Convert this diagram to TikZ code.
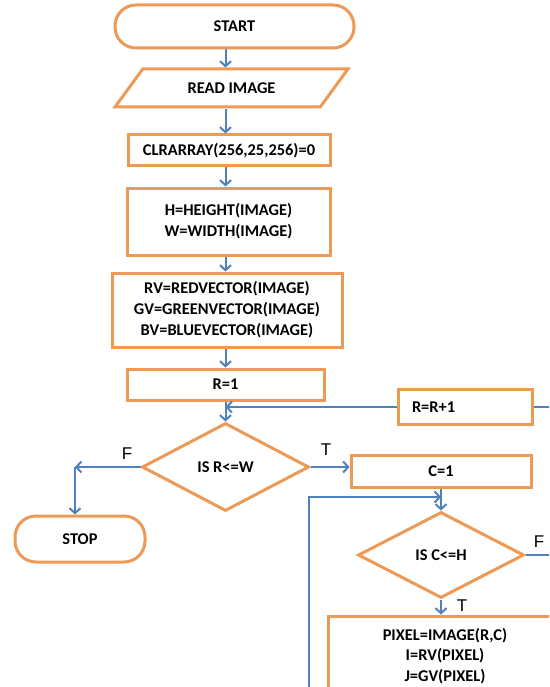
\documentclass[tikz,border=0pt]{standalone}
\usepackage{fontspec}
\newfontfamily\calfont{Carlito}
\newfontfamily\arfont{Liberation Sans}
\usetikzlibrary{shapes.geometric,arrows.meta}
\definecolor{bord}{RGB}{237,154,86}
\definecolor{flowc}{RGB}{79,129,189}
\begin{document}
\begin{tikzpicture}[x=1pt,y=-1pt,
  box/.style={draw=bord, line width=3pt, fill=white, rectangle, inner sep=0pt,
    font=\calfont\bfseries\fontsize{16.4}{21}\selectfont, align=center},
  term/.style={box, rounded corners=21pt},
  dec/.style={box, diamond, shape aspect=1.9},
  flow/.style={draw=flowc, line width=2pt},
  arr/.style={flow, -{Straight Barb[length=5pt,width=11pt]}},
  lbl/.style={font=\arfont\fontsize{17}{17}\selectfont, inner sep=0pt}
]
\useasboundingbox (0,0) rectangle (549,687);
\fill[white] (0,0) rectangle (549,687);
\clip (0,0) rectangle (549,687);

\node[term, minimum width=239pt, minimum height=43pt] (start) at (234.5,26.5) {START};
\node[box, trapezium, trapezium left angle=38.4, trapezium right angle=141.6,
  trapezium stretches, minimum width=233pt, minimum height=38pt] (read) at (231.5,88) {READ IMAGE};
\node[box, minimum width=202pt, minimum height=31pt] (clr) at (229,150.5) {CLRARRAY(256,25,256)=0};
\node[box, minimum width=203pt, minimum height=67pt] (hw) at (228.5,221.5) {H=HEIGHT(IMAGE)\\W=WIDTH(IMAGE)};
\node[box, minimum width=230pt, minimum height=74pt] (rv) at (227,310) {RV=REDVECTOR(IMAGE)\\GV=GREENVECTOR(IMAGE)\\BV=BLUEVECTOR(IMAGE)};
\node[box, minimum width=197pt, minimum height=31pt] (r1) at (225.5,384.5) {R=1};
\node[dec, minimum width=167pt, minimum height=88pt] (d1) at (225.5,467) {IS R<=W};
\node[box, text width=106pt, inner xsep=14pt, align=left, minimum height=35pt] (rr) at (465,407) {R=R+1};
\node[term, minimum width=130pt, minimum height=46pt] (stop) at (80,539) {STOP};
\node[box, minimum width=180pt, minimum height=32pt] (c1) at (441,471) {C=1};
\node[dec, minimum width=166pt, minimum height=86pt] (d2) at (441,555) {IS C<=H};
\node[box, minimum width=272pt, minimum height=144pt] (pixbox) at (464,688) {};
\node[font=\calfont\bfseries\fontsize{16.4}{20.5}\selectfont, align=center, inner sep=0pt] (pixtxt) at (445,656)
  {PIXEL=IMAGE(R,C)\\I=RV(PIXEL)\\J=GV(PIXEL)};

\node[lbl] (fl1) at (127,454) {F};
\node[lbl] (tl1) at (326,450) {T};
\node[lbl] (fl2) at (539,542) {F};
\node[lbl] (tl2) at (462,606) {T};

\coordinate (fc) at (75,467);
\coordinate (rrend) at (560,407);
\coordinate (lb) at (309,700);
\coordinate (lj) at (441,497);
\coordinate (fend) at (560,555);

\draw[arr] (start.south -| r1) -- (read.north -| r1);
\draw[arr] (read.south -| r1) -- (clr.north -| r1);
\draw[arr] (clr.south -| r1) -- (hw.north -| r1);
\draw[arr] (hw.south -| r1) -- (rv.north -| r1);
\draw[arr] (rv.south -| r1) -- (r1.north);
\draw[arr] (r1.south) -- (d1.north);
\draw[arr] (rr.west) -- (rr.west -| r1);
\draw[flow] (rrend) -- (rr.east);
\draw[arr] (d1.west) -- (fc);
\draw[arr] (fc) -- (fc |- stop.north);
\draw[arr] (d1.east) -- (d1.east -| c1.west);
\draw[arr] (c1.south) -- (d2.north);
\draw[arr] (lb) |- (lj);
\draw[flow] (d2.east) -- (fend);
\draw[arr] (d2.south) -- (d2.south |- pixbox.north);
\end{tikzpicture}
\end{document}
